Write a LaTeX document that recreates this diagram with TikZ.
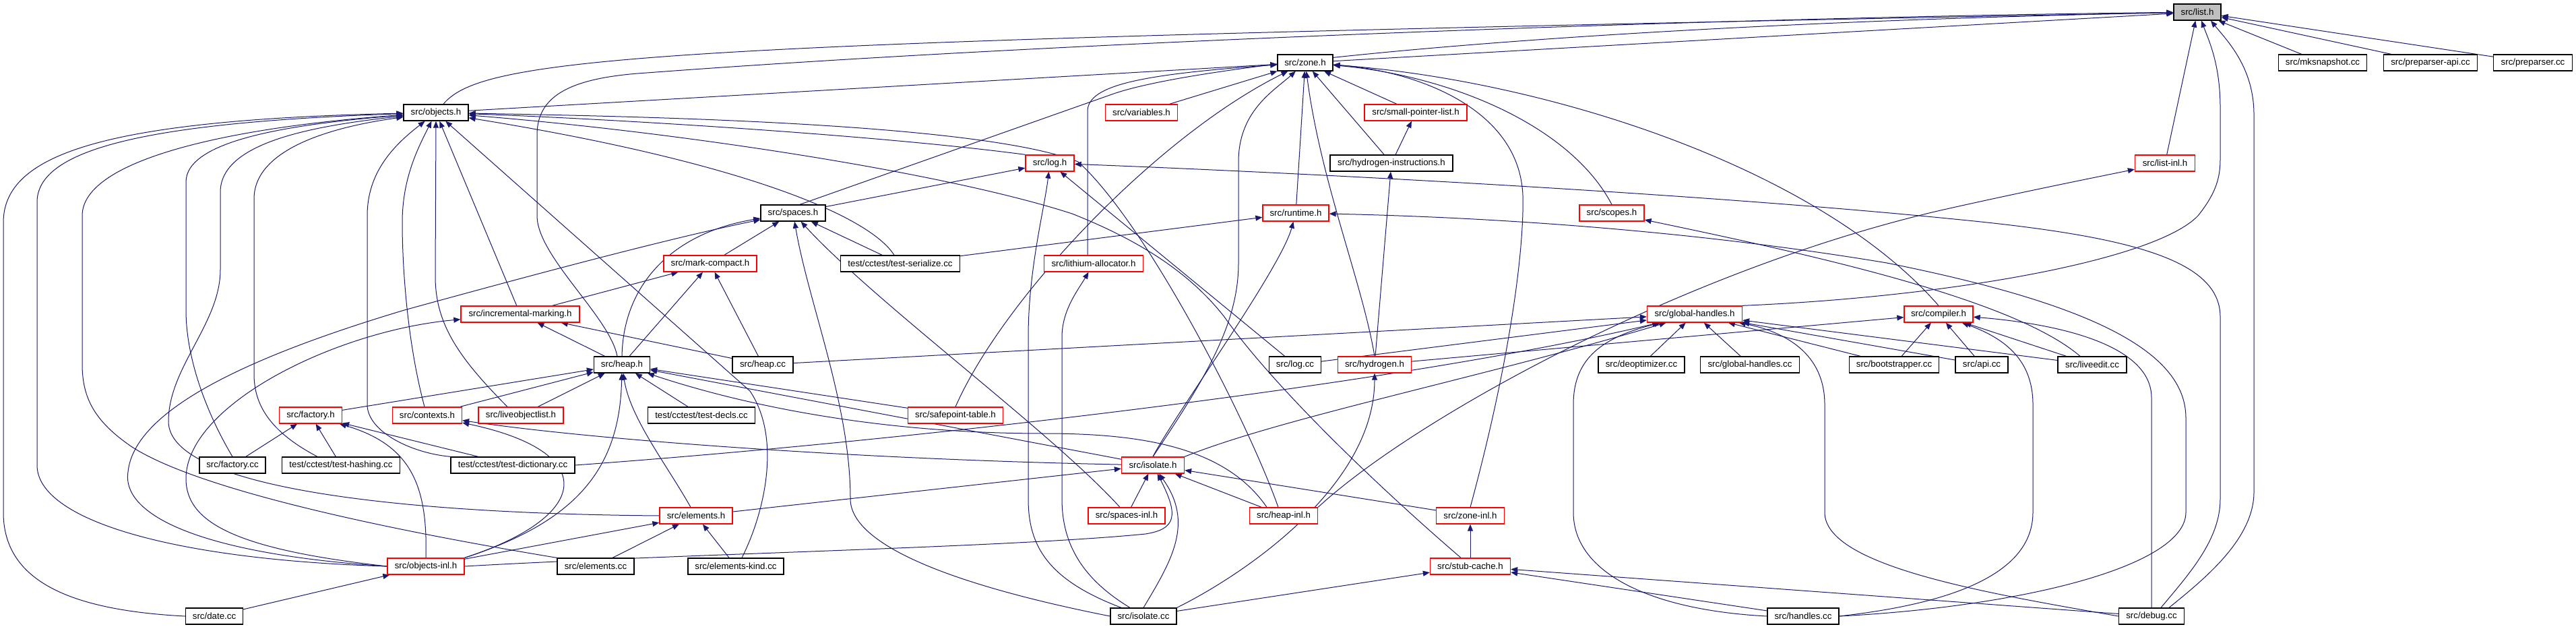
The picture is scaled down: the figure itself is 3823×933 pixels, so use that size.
\documentclass[tikz,border=0pt]{standalone}
\usepackage{fontspec}
\newfontfamily\nodefontfam{Liberation Sans}
\usetikzlibrary{arrows.meta,backgrounds}
\definecolor{edgeblue}{HTML}{191970}
\definecolor{boxgray}{HTML}{BFBFBF}
\tikzset{
  nb/.style={draw=black, line width=1.3pt, fill=white, minimum height=24pt, inner sep=0pt,
    font=\nodefontfam\fontsize{13.3}{16}\selectfont},
  nr/.style={nb, draw=red},
  ng/.style={nb, fill=boxgray},
  edg/.style={draw=edgeblue, line width=1pt, -{Triangle[length=10pt,width=8pt]}},
}
\begin{document}
\begin{tikzpicture}[x=1pt,y=-1pt]
\useasboundingbox (0,0) rectangle (3823,933);
% nodes
\node[ng, minimum width=70pt] (listh) at (3261,18) {src/list.h};
\node[nb, minimum width=82pt] (zoneh) at (1937,93) {src/zone.h};
\node[nb, minimum width=131pt] (mksnap) at (3447,93) {src/mksnapshot.cc};
\node[nb, minimum width=139pt] (prepapi) at (3607,93) {src/preparser-api.cc};
\node[nb, minimum width=117pt] (prepcc) at (3759,93) {src/preparser.cc};
\node[nb, minimum width=96pt] (objectsh) at (647,167) {src/objects.h};
\node[nr, minimum width=107pt] (variablesh) at (1694,167) {src/variables.h};
\node[nr, minimum width=152pt] (smallptr) at (2101,167) {src/small-pointer-list.h};
\node[nr, minimum width=72pt] (logh) at (1558,242) {src/log.h};
\node[nb, minimum width=182pt] (hydroinstr) at (2065,242) {src/hydrogen-instructions.h};
\node[nr, minimum width=89pt] (listinl) at (3213,242) {src/list-inl.h};
\node[nb, minimum width=96pt] (spacesh) at (1177,316) {src/spaces.h};
\node[nr, minimum width=98pt] (runtimeh) at (1923,316) {src/runtime.h};
\node[nr, minimum width=96pt] (scopesh) at (2392,316) {src/scopes.h};
\node[nr, minimum width=138pt] (markcompact) at (1054,391) {src/mark-compact.h};
\node[nb, minimum width=177pt] (testserialize) at (1336,391) {test/cctest/test-serialize.cc};
\node[nr, minimum width=147pt] (lithium) at (1623,391) {src/lithium-allocator.h};
\node[nr, minimum width=176pt] (incmarking) at (772,466) {src/incremental-marking.h};
\node[nr, minimum width=141pt] (globalhh) at (2515,466) {src/global-handles.h};
\node[nr, minimum width=102pt] (compilerh) at (2877,466) {src/compiler.h};
\node[nb, minimum width=83pt] (heaph) at (923,541) {src/heap.h};
\node[nb, minimum width=90pt] (heapcc) at (1132,541) {src/heap.cc};
\node[nb, minimum width=77pt] (logcc) at (1922,541) {src/log.cc};
\node[nr, minimum width=109pt] (hydrogenh) at (2040,541) {src/hydrogen.h};
\node[nb, minimum width=128pt] (deoptcc) at (2436,541) {src/deoptimizer.cc};
\node[nb, minimum width=147pt] (ghcc) at (2597,541) {src/global-handles.cc};
\node[nb, minimum width=133pt] (bootstrap) at (2811,541) {src/bootstrapper.cc};
\node[nb, minimum width=78pt] (apicc) at (2941,541) {src/api.cc};
\node[nb, minimum width=102pt] (liveedit) at (3105,541) {src/liveedit.cc};
\node[nr, minimum width=93pt] (factoryh) at (461,616) {src/factory.h};
\node[nr, minimum width=103pt] (contextsh) at (634,616) {src/contexts.h};
\node[nr, minimum width=126pt] (liveobj) at (773,616) {src/liveobjectlist.h};
\node[nb, minimum width=159pt] (testdecls) at (1041,616) {test/cctest/test-decls.cc};
\node[nr, minimum width=141pt] (safepoint) at (1418,616) {src/safepoint-table.h};
\node[nb, minimum width=98pt] (factorycc) at (345,690) {src/factory.cc};
\node[nb, minimum width=175pt] (testhashing) at (506,690) {test/cctest/test-hashing.cc};
\node[nb, minimum width=184pt] (testdict) at (761,690) {test/cctest/test-dictionary.cc};
\node[nr, minimum width=93pt] (isolateh) at (1711,690) {src/isolate.h};
\node[nr, minimum width=108pt] (elementsh) at (1033,765) {src/elements.h};
\node[nr, minimum width=114pt] (spacesinl) at (1672,765) {src/spaces-inl.h};
\node[nr, minimum width=101pt] (heapinl) at (1905,765) {src/heap-inl.h};
\node[nr, minimum width=101pt] (zoneinl) at (2182,765) {src/zone-inl.h};
\node[nr, minimum width=114pt] (objectsinl) at (632,840) {src/objects-inl.h};
\node[nb, minimum width=114pt] (elementscc) at (884,840) {src/elements.cc};
\node[nb, minimum width=142pt] (elementskind) at (1092,840) {src/elements-kind.cc};
\node[nr, minimum width=119pt] (stubcache) at (2182,840) {src/stub-cache.h};
\node[nb, minimum width=85pt] (datecc) at (318,914) {src/date.cc};
\node[nb, minimum width=98pt] (isolatecc) at (1697,914) {src/isolate.cc};
\node[nb, minimum width=106pt] (handlescc) at (2676,914) {src/handles.cc};
\node[nb, minimum width=97pt] (debugcc) at (3193,914) {src/debug.cc};

\begin{scope}[on background layer]
\fill[white] (0,0) rectangle (3823,933);
% into list.h
\draw[edg] (zoneh) -- (listh);
\draw[edg] ([xshift=11pt]objectsh.north) .. controls (720,80) and (1000,62) .. (listh);
\draw[edg] ([xshift=-7pt]heaph.north) .. controls (905,470) and (797,380) .. (797,320) -- (797,200) .. controls (797,140) and (850,115) .. (960,108) .. controls (1600,60) and (2600,25) .. (listh);
\draw[edg] ([xshift=10pt]spacesh.north) -- (1650,140) .. controls (1790,90) and (2400,35) .. (listh);
\draw[edg] (listinl) -- (listh);
\draw[edg] (globalhh.north east) .. controls (2900,440) and (3200,385) .. (3262,320) .. controls (3290,285) and (3295,262) .. (3295,235) -- (3295,160) .. controls (3295,95) and (3278,60) .. ([xshift=6pt]listh.south);
\draw[edg] ([xshift=26pt]debugcc.north) .. controls (3270,860) and (3345,800) .. (3345,730) -- (3345,170) .. controls (3345,100) and (3305,60) .. ([xshift=20pt]listh.south);
\draw[edg] (mksnap) -- (listh);
\draw[edg] (prepapi) -- (listh);
\draw[edg] (prepcc) -- (listh);
% into zone.h
\draw[edg] (objectsh) -- (zoneh);
\draw[edg] ([xshift=-9pt]lithium.north) -- (1614,165) .. controls (1614,125) and (1700,110) .. (zoneh);
\draw[edg] (variablesh) -- (zoneh);
\draw[edg] (safepoint.north) .. controls (1490,440) and (1720,200) .. (zoneh);
\draw[edg] (isolateh.north) .. controls (1790,560) and (1838,480) .. (1838,390) -- (1838,240) .. controls (1838,165) and (1890,135) .. (zoneh);
\draw[edg] (runtimeh) -- (zoneh);
\draw[edg] (hydrogenh.north) .. controls (2022,420) and (1960,270) .. (zoneh);
\draw[edg] (hydroinstr) -- (zoneh);
\draw[edg] (smallptr) -- (zoneh);
\draw[edg] (zoneinl.north) .. controls (2245,520) and (2262,360) .. (2260,290) .. controls (2255,160) and (2100,105) .. (zoneh);
\draw[edg] (scopesh.north) .. controls (2330,185) and (2150,112) .. (zoneh);
\draw[edg] (compilerh.north) .. controls (2700,250) and (2300,120) .. (zoneh);
% into objects.h
\draw[edg] (datecc.west) .. controls (100,905) and (5,860) .. (5,760) -- (5,330) .. controls (5,230) and (150,178) .. (objectsh);
\draw[edg] (objectsinl.west) .. controls (250,830) and (55,770) .. (55,690) -- (55,300) .. controls (55,225) and (200,182) .. (objectsh);
\draw[edg] (elementscc.north west) .. controls (600,790) and (300,730) .. (196,663) .. controls (140,625) and (122,590) .. (122,540) -- (122,320) .. controls (122,235) and (350,188) .. (objectsh);
\draw[edg] (factorycc.north) .. controls (305,610) and (276,530) .. (276,460) -- (276,270) .. controls (276,210) and (420,185) .. (objectsh);
\draw[edg] (elementsh.west) .. controls (600,762) and (250,725) .. (250,625) .. controls (250,545) and (327,480) .. (327,400) -- (327,285) .. controls (327,215) and (450,188) .. (objectsh);
\draw[edg] ([xshift=-35pt]testhashing.north) .. controls (400,640) and (377,600) .. (377,555) -- (377,295) .. controls (377,225) and (480,190) .. (objectsh);
\draw[edg] (testdict.north west) .. controls (610,672) and (545,640) .. (545,600) -- (545,320) .. controls (545,255) and (585,215) .. (objectsh);
\draw[edg] ([xshift=-4pt]contextsh.north) .. controls (605,510) and (597,400) .. (597,330) .. controls (597,265) and (620,220) .. (objectsh);
\draw[edg] ([xshift=-20pt]liveobj.north) .. controls (680,530) and (646,480) .. (646,410) -- (objectsh.south);
\draw[edg] (incmarking) -- (objectsh);
\draw[edg] ([xshift=9pt]elementskind.north) .. controls (1135,760) and (1160,650) .. (1113,580) -- (objectsh);
\draw[edg] ([xshift=-8pt]heapinl.north) .. controls (1850,620) and (1700,330) .. (1600,240) .. controls (1450,180) and (900,172) .. (objectsh);
\draw[edg] (logh.north west) .. controls (1300,200) and (900,176) .. (objectsh);
\draw[edg] ([xshift=-9pt]testserialize.north) .. controls (1290,320) and (1100,240) .. (objectsh);
\draw[edg] ([xshift=-14pt]stubcache.north) .. controls (2020,700) and (1880,560) .. (1817,470) .. controls (1770,410) and (1700,360) .. (1591,317) .. controls (1400,255) and (1000,195) .. (objectsh);
% into log.h
\draw[edg] (spacesh) -- (logh);
\draw[edg] (logcc) -- (logh);
\draw[edg] ([xshift=-33pt]isolatecc.north) .. controls (1555,860) and (1526,810) .. (1526,740) -- (1526,500) .. controls (1526,400) and (1550,310) .. (logh);
\draw[edg] ([xshift=14pt]debugcc.north) .. controls (3250,850) and (3295,800) .. (3295,740) -- (3295,470) .. controls (3295,385) and (3160,350) .. (2900,325) .. controls (2500,285) and (1900,255) .. (logh);
% into heap.h
\draw[edg] (heaph) -- (incmarking);
\draw[edg] (heaph.north) .. controls (925,420) and (1000,345) .. (spacesh);
\draw[edg] (heaph) -- (markcompact);
\draw[edg] (factoryh) -- (heaph);
\draw[edg] (contextsh) -- (heaph);
\draw[edg] (liveobj) -- (heaph);
\draw[edg] (testdecls) -- (heaph);
\draw[edg] (safepoint) -- (heaph);
\draw[edg] (isolateh) -- (heaph);
\draw[edg] ([xshift=-25pt]heapinl.north) .. controls (1820,665) and (1700,643) .. (1550,643) .. controls (1300,643) and (1100,600) .. (heaph);
\draw[edg] ([xshift=-8pt]elementsh.north) .. controls (990,690) and (935,620) .. (heaph);
\draw[edg] (objectsinl.north east) .. controls (850,775) and (920,700) .. (heaph);
% into spaces.h
\draw[edg] (markcompact) -- (spacesh);
\draw[edg] (testserialize) -- (spacesh);
\draw[edg] (objectsinl.west) .. controls (300,822) and (180,765) .. (190,700) .. controls (200,600) and (400,520) .. (600,460) .. controls (800,405) and (1000,352) .. (spacesh);
\draw[edg] (isolatecc.west) .. controls (1400,865) and (1262,805) .. (1262,740) .. controls (1262,600) and (1200,450) .. (spacesh);
\draw[edg] ([xshift=-10pt]spacesinl.north) .. controls (1560,640) and (1300,450) .. (spacesh);
% incremental-marking, mark-compact
\draw[edg] (incmarking) -- (markcompact);
\draw[edg] (heapcc) -- (markcompact);
\draw[edg] (heapcc) -- (incmarking);
\draw[edg] (objectsinl.west) .. controls (350,815) and (276,775) .. (276,710) .. controls (276,600) and (500,490) .. (incmarking);
% contexts.h
\draw[edg] (objectsinl.north east) .. controls (880,765) and (890,670) .. (contextsh);
\draw[edg] (isolateh) .. controls (1300,682) and (900,655) .. (contextsh);
% factory.h
\draw[edg] (factorycc) -- (factoryh);
\draw[edg] (testhashing) -- (factoryh);
\draw[edg] (testdict) -- (factoryh);
\draw[edg] (objectsinl.north) .. controls (635,720) and (610,660) .. (factoryh);
% elements.h
\draw[edg] (objectsinl) -- (elementsh);
\draw[edg] (elementscc) -- (elementsh);
\draw[edg] (elementskind) -- (elementsh);
% isolate.h
\draw[edg] (elementsh) -- (isolateh);
\draw[edg] (spacesinl) -- (isolateh);
\draw[edg] (objectsinl.east) .. controls (1000,822) and (1500,812) .. (1700,792) .. controls (1745,785) and (1750,765) .. (isolateh);
\draw[edg] (isolatecc.north) .. controls (1740,830) and (1772,775) .. (isolateh);
\draw[edg] (heapinl) -- (isolateh);
\draw[edg] (zoneinl) -- (isolateh);
\draw[edg] (isolateh.north) .. controls (1740,620) and (1900,400) .. (runtimeh);
\draw[edg] (isolateh.north east) .. controls (1900,620) and (2200,560) .. (globalhh);
% global-handles.h
\draw[edg] (heapcc) -- (globalhh);
\draw[edg] (logcc) -- (globalhh);
\draw[edg] (testdict.east) .. controls (1400,650) and (2100,565) .. (globalhh);
\draw[edg] (deoptcc) -- (globalhh);
\draw[edg] (ghcc) -- (globalhh);
\draw[edg] (bootstrap) -- (globalhh);
\draw[edg] (apicc) -- (globalhh);
\draw[edg] (liveedit) -- (globalhh);
\draw[edg] (handlescc.west) .. controls (2450,905) and (2335,850) .. (2335,760) -- (2335,600) .. controls (2335,530) and (2380,500) .. (globalhh);
\draw[edg] (debugcc.west) .. controls (2950,880) and (2708,840) .. (2708,760) -- (2708,600) .. controls (2708,525) and (2650,492) .. (globalhh);
% compiler.h
\draw[edg] (hydrogenh) -- (compilerh);
\draw[edg] (bootstrap) -- (compilerh);
\draw[edg] (apicc) -- (compilerh);
\draw[edg] (liveedit) -- (compilerh);
\draw[edg] (handlescc.east) .. controls (2900,895) and (3017,850) .. (3017,760) -- (3017,600) .. controls (3017,530) and (2970,500) .. (compilerh);
\draw[edg] (debugcc.north) -- (3193,590) .. controls (3193,510) and (3050,480) .. (compilerh);
% scopes.h
\draw[edg] ([xshift=-18pt]liveedit.north) .. controls (2990,445) and (2700,380) .. (scopesh);
% runtime.h
\draw[edg] (testserialize) -- (runtimeh);
\draw[edg] (handlescc.east) .. controls (3000,900) and (3244,840) .. (3244,760) -- (3244,620) .. controls (3244,520) and (3100,450) .. (2800,390) .. controls (2500,340) and (2200,322) .. (runtimeh);
% hydrogen.h
\draw[edg] (isolatecc.north east) .. controls (1850,850) and (2040,720) .. (hydrogenh);
\draw[edg] (hydrogenh) -- (hydroinstr);
% stub-cache.h
\draw[edg] (isolatecc) -- (stubcache);
\draw[edg] (handlescc) -- (stubcache);
\draw[edg] (debugcc) -- (stubcache);
\draw[edg] (stubcache) -- (zoneinl);
% list-inl.h
\draw[edg] (heapinl.north east) .. controls (2100,620) and (2500,400) .. (2880,312) .. controls (3000,285) and (3100,265) .. (listinl);
% lithium
\draw[edg] ([xshift=-20pt]isolatecc.north) .. controls (1600,855) and (1576,800) .. (1576,740) -- (1576,500) .. controls (1576,460) and (1600,430) .. (lithium);
% misc
\draw[edg] (hydroinstr) -- (smallptr);
\draw[edg] (datecc) -- (objectsinl);
\end{scope}
\end{tikzpicture}
\end{document}
